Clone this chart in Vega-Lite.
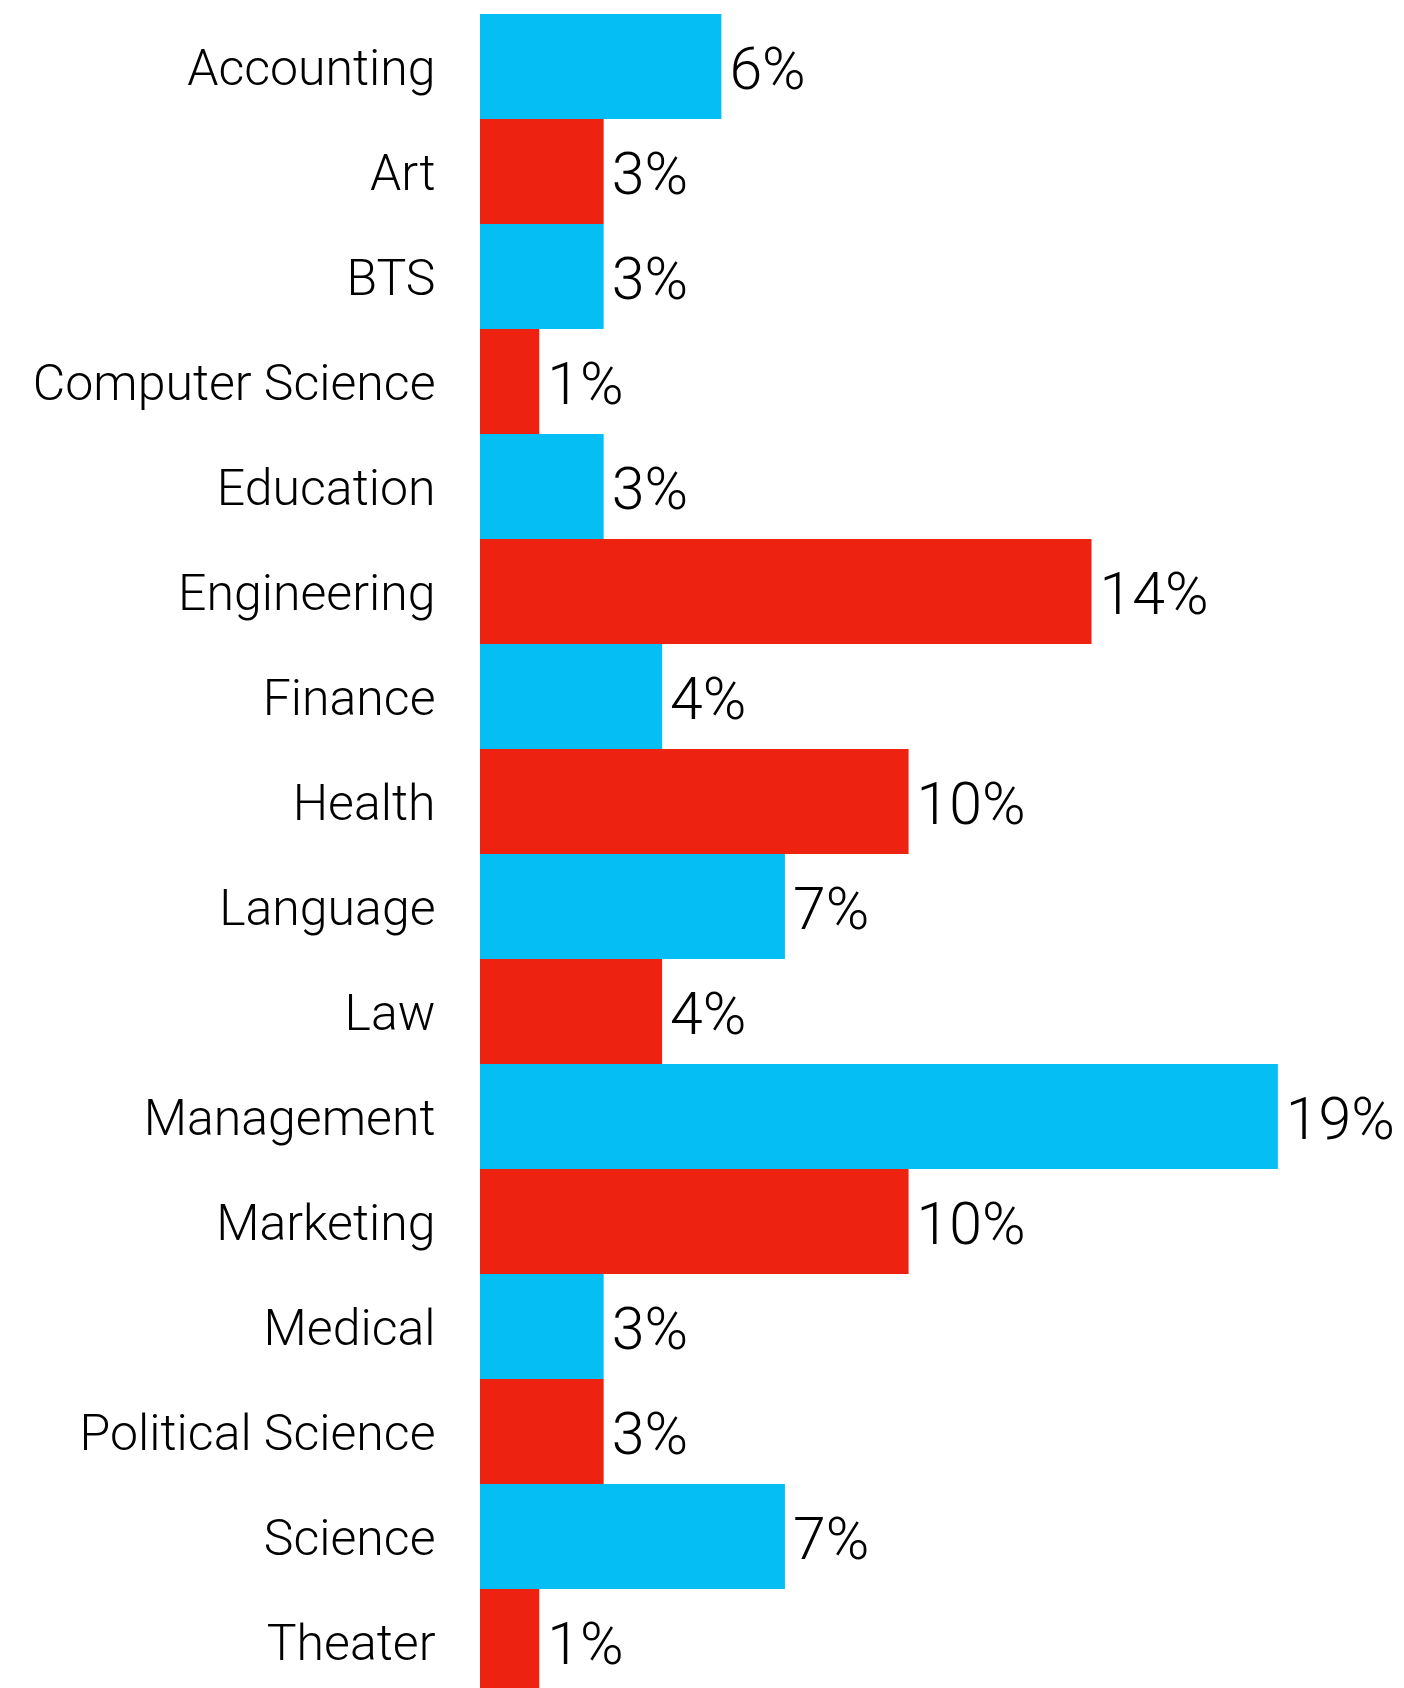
{
  "$schema": "https://vega.github.io/schema/vega-lite/v6.json",
  "width": 847,
  "height": 1680,
  "autosize": "none",
  "padding": {"left": 480, "top": 14, "right": 77, "bottom": 0},
  "background": "white",
  "config": {"view": {"stroke": null}},
  "data": {"values": [
    {"major": "Accounting", "share": 0.0570, "label": "6%", "grp": "a"},
    {"major": "Art", "share": 0.0292, "label": "3%", "grp": "b"},
    {"major": "BTS", "share": 0.0292, "label": "3%", "grp": "a"},
    {"major": "Computer Science", "share": 0.0140, "label": "1%", "grp": "b"},
    {"major": "Education", "share": 0.0292, "label": "3%", "grp": "a"},
    {"major": "Engineering", "share": 0.1444, "label": "14%", "grp": "b"},
    {"major": "Finance", "share": 0.0430, "label": "4%", "grp": "a"},
    {"major": "Health", "share": 0.1012, "label": "10%", "grp": "b"},
    {"major": "Language", "share": 0.0720, "label": "7%", "grp": "a"},
    {"major": "Law", "share": 0.0430, "label": "4%", "grp": "b"},
    {"major": "Management", "share": 0.1884, "label": "19%", "grp": "a"},
    {"major": "Marketing", "share": 0.1012, "label": "10%", "grp": "b"},
    {"major": "Medical", "share": 0.0292, "label": "3%", "grp": "a"},
    {"major": "Political Science", "share": 0.0292, "label": "3%", "grp": "b"},
    {"major": "Science", "share": 0.0720, "label": "7%", "grp": "a"},
    {"major": "Theater", "share": 0.0140, "label": "1%", "grp": "b"}
  ]},
  "encoding": {
    "y": {
      "field": "major", "type": "nominal", "sort": null,
      "scale": {"paddingInner": 0, "paddingOuter": 0},
      "axis": {"title": null, "domain": false, "ticks": false, "labelPadding": 45, "labelLimit": 0,
               "labelOffset": 3,
               "labelFontSize": 50, "labelFont": "Roboto", "labelFontWeight": 300, "labelColor": "#000000"}
    },
    "x": {
      "field": "share", "type": "quantitative",
      "scale": {"domain": [0, 0.2], "nice": false},
      "axis": null
    }
  },
  "layer": [
    {
      "mark": {"type": "bar"},
      "encoding": {
        "color": {"field": "grp", "type": "nominal", "legend": null,
                  "scale": {"domain": ["a", "b"], "range": ["#05BEF4", "#EE2210"]}}
      }
    },
    {
      "mark": {"type": "text", "align": "left", "baseline": "middle", "dx": 8, "dy": 4,
               "fontSize": 59, "font": "Roboto", "fontWeight": 300, "color": "#000000", "clip": false},
      "encoding": {"text": {"field": "label"}}
    }
  ]
}
